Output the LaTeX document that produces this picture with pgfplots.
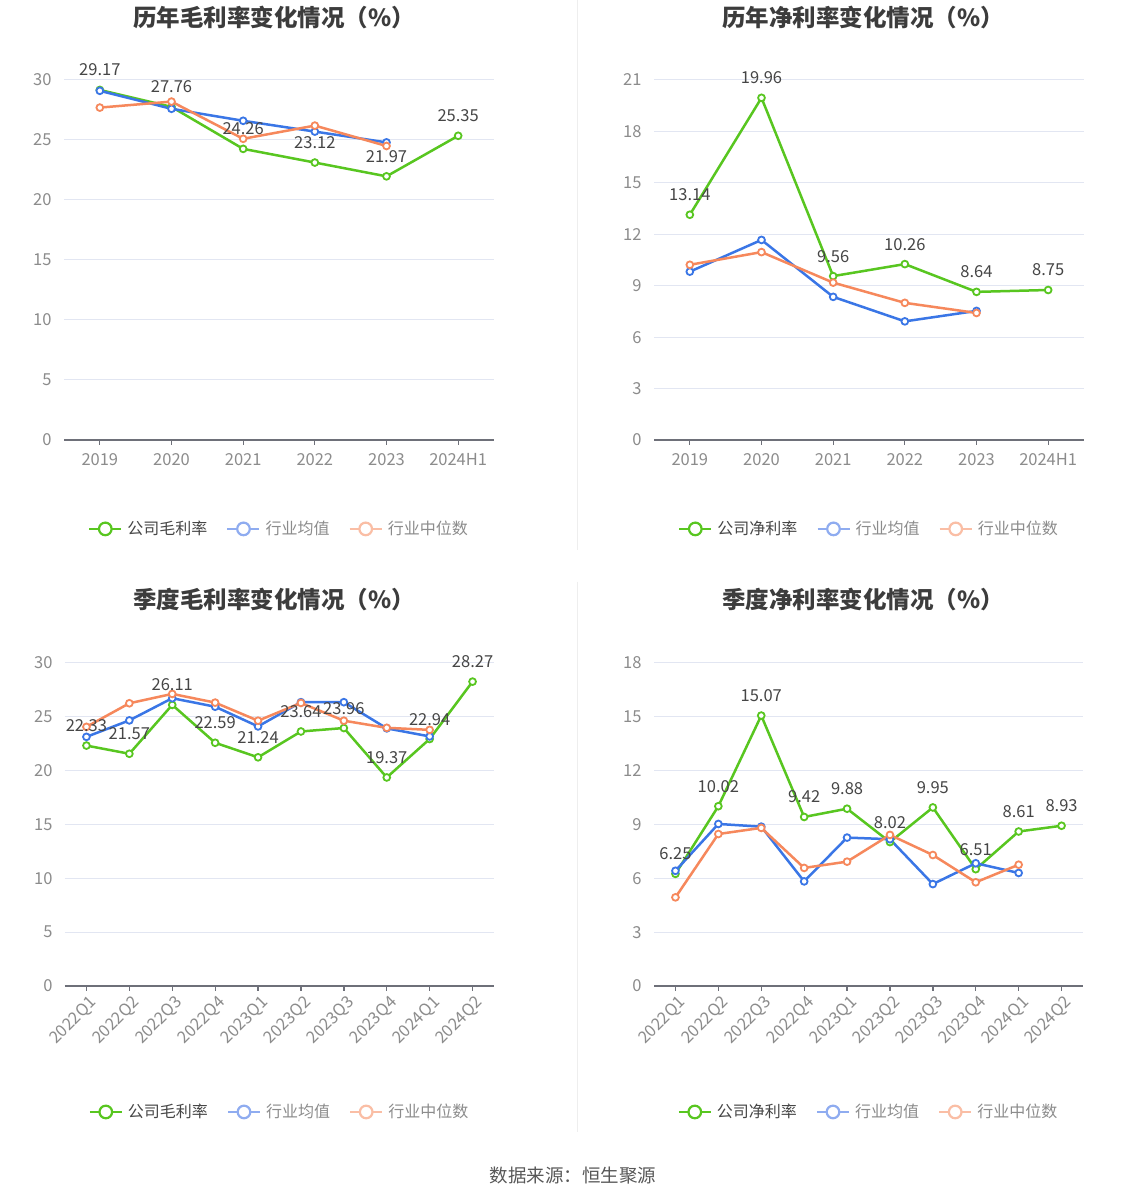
\documentclass[border=0pt]{standalone}
\usepackage{pgfplots}
\pgfplotsset{compat=1.18}
\usepackage{fontspec}
\setmainfont{Noto Sans CJK SC}
\definecolor{cgreen}{RGB}{88,198,32}
\definecolor{cblue}{RGB}{58,118,230}
\definecolor{corange}{RGB}{246,136,92}
\definecolor{lblue}{RGB}{143,172,240}
\definecolor{lorange}{RGB}{250,190,165}
\definecolor{gridc}{RGB}{226,230,242}
\definecolor{axisc}{RGB}{110,112,121}
\definecolor{tickc}{RGB}{140,140,140}
\definecolor{labc}{RGB}{70,70,70}
\definecolor{titc}{RGB}{60,60,60}
\definecolor{divc}{RGB}{238,238,238}

\pgfplotsset{
 panel/.style={
  scale only axis, anchor=south west,
  axis x line*=bottom, axis y line*=left,
  y axis line style={draw=none},
  x axis line style={draw=axisc, line width=1.3pt},
  ymajorgrids, grid style={gridc, line width=1pt},
  ytick style={draw=none},
  xtick style={draw=axisc, line width=1.3pt},
  major tick length=5pt, tick align=outside,
  tick label style={font=\fontsize{16.5}{19}\selectfont, text=tickc},
  yticklabel style={xshift=-4pt},
  /pgf/number format/assume math mode=true,
  clip=false,
  legend style={draw=none, fill=none, legend columns=3,
    font=\fontsize{16}{19}\selectfont,
    /tikz/every even column/.append style={column sep=17pt},
    /tikz/every odd column/.append style={column sep=3pt}, anchor=center},
  legend image code/.code={\draw[line width=2.2pt] (0pt,0pt) -- (32pt,0pt);
     \draw[line width=2.2pt, fill=white] (16pt,0pt) circle (6.3pt);},
 },
 hlab/.style={xticklabel style={yshift=-5pt}},
 rlab/.style={xticklabel style={rotate=45, anchor=north east, inner sep=1pt, yshift=-3pt}},
 ser/.style={line width=2.5pt, mark=*, mark size=3.4pt, mark options={fill=white, line width=1.8pt}, forget plot},
 labs/.style={draw=none, mark=none, forget plot, nodes near coords={\pgfmathprintnumber[fixed,precision=2,fixed zerofill]{\pgfplotspointmeta}},
   every node near coord/.append style={anchor=base, yshift=14pt, inner sep=0pt, font=\fontsize{16.5}{19}\selectfont, text=labc}},
}

\begin{document}
\begin{tikzpicture}[x=1pt,y=1pt]
\path[fill=white, use as bounding box] (0,0) rectangle (1147,1202);
\draw[divc, line width=1pt] (577,1202) -- (577,652);
\draw[divc, line width=1pt] (577,620) -- (577,70);

% Panel 1
\node[font=\fontsize{23.5}{27}\selectfont\bfseries, text=titc] at (274,1184) {历年毛利率变化情况（\%）};
\begin{axis}[panel, hlab, at={(64pt,762pt)}, width=430pt, height=360pt,
  xmin=-0.5, xmax=5.5, ymin=0, ymax=30, ytick={0,5,...,30},
  xtick={0,...,5}, xticklabels={2019,2020,2021,2022,2023,2024H1},
  legend style={at={(0.5,-0.247)}}]
\addlegendimage{cgreen}\addlegendentry{\textcolor{labc}{公司毛利率}}
\addlegendimage{lblue}\addlegendentry{\textcolor{tickc}{行业均值}}
\addlegendimage{lorange}\addlegendentry{\textcolor{tickc}{行业中位数}}
\addplot[ser, cgreen] coordinates {(0,29.17)(1,27.76)(2,24.26)(3,23.12)(4,21.97)(5,25.35)};
\addplot[ser, cblue] coordinates {(0,29.1)(1,27.6)(2,26.6)(3,25.7)(4,24.8)};
\addplot[ser, corange] coordinates {(0,27.7)(1,28.2)(2,25.1)(3,26.2)(4,24.5)};
\addplot[labs] coordinates {(0,29.17)(1,27.76)(2,24.26)(3,23.12)(4,21.97)(5,25.35)};
\end{axis}

% Panel 2
\node[font=\fontsize{23.5}{27}\selectfont\bfseries, text=titc] at (863,1184) {历年净利率变化情况（\%）};
\begin{axis}[panel, hlab, at={(654pt,762pt)}, width=430pt, height=360pt,
  xmin=-0.5, xmax=5.5, ymin=0, ymax=21, ytick={0,3,...,21},
  xtick={0,...,5}, xticklabels={2019,2020,2021,2022,2023,2024H1},
  legend style={at={(0.5,-0.247)}}]
\addlegendimage{cgreen}\addlegendentry{\textcolor{labc}{公司净利率}}
\addlegendimage{lblue}\addlegendentry{\textcolor{tickc}{行业均值}}
\addlegendimage{lorange}\addlegendentry{\textcolor{tickc}{行业中位数}}
\addplot[ser, cgreen] coordinates {(0,13.14)(1,19.96)(2,9.56)(3,10.26)(4,8.64)(5,8.75)};
\addplot[ser, cblue] coordinates {(0,9.82)(1,11.67)(2,8.35)(3,6.92)(4,7.53)};
\addplot[ser, corange] coordinates {(0,10.22)(1,10.96)(2,9.18)(3,8.0)(4,7.41)};
\addplot[labs] coordinates {(0,13.14)(1,19.96)(2,9.56)(3,10.26)(4,8.64)(5,8.75)};
\end{axis}

% Panel 3
\node[font=\fontsize{23.5}{27}\selectfont\bfseries, text=titc] at (274,602) {季度毛利率变化情况（\%）};
\begin{axis}[panel, rlab, at={(65pt,216pt)}, width=429pt, height=323pt,
  xmin=-0.5, xmax=9.5, ymin=0, ymax=30, ytick={0,5,...,30},
  xtick={0,...,9}, xticklabels={2022Q1,2022Q2,2022Q3,2022Q4,2023Q1,2023Q2,2023Q3,2023Q4,2024Q1,2024Q2},
  legend style={at={(0.5,-0.39)}}]
\addlegendimage{cgreen}\addlegendentry{\textcolor{labc}{公司毛利率}}
\addlegendimage{lblue}\addlegendentry{\textcolor{tickc}{行业均值}}
\addlegendimage{lorange}\addlegendentry{\textcolor{tickc}{行业中位数}}
\addplot[ser, cgreen] coordinates {(0,22.33)(1,21.57)(2,26.11)(3,22.59)(4,21.24)(5,23.64)(6,23.96)(7,19.37)(8,22.94)(9,28.27)};
\addplot[ser, cblue] coordinates {(0,23.14)(1,24.67)(2,26.73)(3,25.94)(4,24.11)(5,26.36)(6,26.36)(7,23.93)(8,23.18)};
\addplot[ser, corange] coordinates {(0,24.07)(1,26.26)(2,27.13)(3,26.32)(4,24.64)(5,26.29)(6,24.64)(7,23.98)(8,23.79)};
\addplot[labs] coordinates {(0,22.33)(1,21.57)(2,26.11)(3,22.59)(4,21.24)(5,23.64)(6,23.96)(7,19.37)(8,22.94)(9,28.27)};
\end{axis}

% Panel 4
\node[font=\fontsize{23.5}{27}\selectfont\bfseries, text=titc] at (863,602) {季度净利率变化情况（\%）};
\begin{axis}[panel, rlab, at={(654pt,216pt)}, width=429pt, height=323pt,
  xmin=-0.5, xmax=9.5, ymin=0, ymax=18, ytick={0,3,...,18},
  xtick={0,...,9}, xticklabels={2022Q1,2022Q2,2022Q3,2022Q4,2023Q1,2023Q2,2023Q3,2023Q4,2024Q1,2024Q2},
  legend style={at={(0.5,-0.39)}}]
\addlegendimage{cgreen}\addlegendentry{\textcolor{labc}{公司净利率}}
\addlegendimage{lblue}\addlegendentry{\textcolor{tickc}{行业均值}}
\addlegendimage{lorange}\addlegendentry{\textcolor{tickc}{行业中位数}}
\addplot[ser, cgreen] coordinates {(0,6.25)(1,10.02)(2,15.07)(3,9.42)(4,9.88)(5,8.02)(6,9.95)(7,6.51)(8,8.61)(9,8.93)};
\addplot[ser, cblue] coordinates {(0,6.42)(1,9.03)(2,8.88)(3,5.83)(4,8.27)(5,8.18)(6,5.68)(7,6.84)(8,6.30)};
\addplot[ser, corange] coordinates {(0,4.94)(1,8.47)(2,8.81)(3,6.58)(4,6.93)(5,8.42)(6,7.30)(7,5.78)(8,6.76)};
\addplot[labs] coordinates {(0,6.25)(1,10.02)(2,15.07)(3,9.42)(4,9.88)(5,8.02)(6,9.95)(7,6.51)(8,8.61)(9,8.93)};
\end{axis}

\node[font=\fontsize{18.5}{22}\selectfont, text=labc!90] at (573,26) {数据来源：恒生聚源};
\end{tikzpicture}
\end{document}
